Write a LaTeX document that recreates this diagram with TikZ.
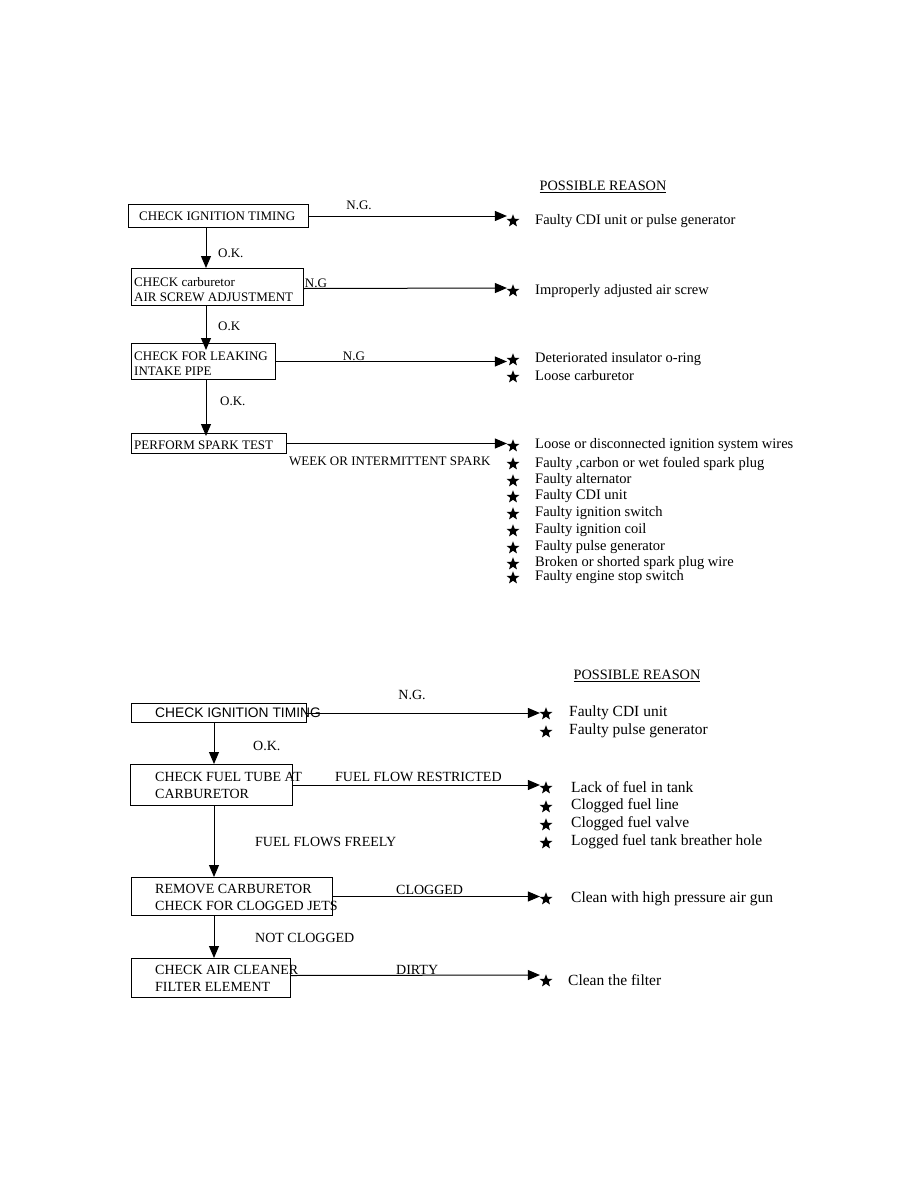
\documentclass[tikz,border=0pt]{standalone}
\usepackage{fontspec}
\setmainfont{Liberation Serif}
\newfontfamily\arialfont{Liberation Sans}
\usetikzlibrary{arrows.meta,shapes.geometric}

\begin{document}
\begin{tikzpicture}[x=1pt,y=-1pt,
  every node/.style={font=\fontsize{13}{15}\selectfont,inner sep=0pt},
  box/.style={draw,line width=1pt,anchor=north west},
  boxtxt/.style={anchor=west,align=left},
  flow/.style={-{Triangle[length=12pt,width=10pt]},line width=1pt},
  toreason/.style={flow,shorten >=2pt},
  tag/.style={anchor=west},
  starmark/.style={star,star points=5,star point ratio=2.4,fill=black,minimum size=13.5pt,inner sep=0pt},
  why/.style={anchor=west,font=\fontsize{14.5}{17}\selectfont},
  whytoo/.style={anchor=west,font=\fontsize{15.5}{18}\selectfont},
  head/.style={font=\fontsize{14.3}{17}\selectfont}]
  \useasboundingbox (0,0) rectangle (918,1188);

  % upper chart
  \coordinate (trunk) at (206,0);
  \node[head] (hd1) at (603,187) {\underline{POSSIBLE REASON}};

  \node[box,minimum width=180pt,minimum height=23pt] (ign) at (128,204) {};
  \node[boxtxt] (ignt) at (139,216) {CHECK IGNITION TIMING};
  \node[box,minimum width=172pt,minimum height=37pt] (airs) at (131,268) {};
  \node[boxtxt] (airst) at (134,289.5) {CHECK carburetor\\AIR SCREW ADJUSTMENT};
  \node[box,minimum width=144pt,minimum height=36pt] (leak) at (131,343) {};
  \node[boxtxt] (leakt) at (134,363.5) {CHECK FOR LEAKING\\INTAKE PIPE};
  \node[box,minimum width=155pt,minimum height=20pt] (spark) at (131,433) {};
  \node[boxtxt] (sparkt) at (134,445) {PERFORM SPARK TEST};

  \node[starmark] (r1) at (513,221) {};
  \node[why] (r1t) at (535,221) {Faulty CDI unit or pulse generator};
  \node[starmark] (r2) at (513,291) {};
  \node[why] (r2t) at (535,291) {Improperly adjusted air screw};
  \foreach \y/\t [count=\i] in {360/Deteriorated insulator o-ring,377/Loose carburetor}
  {
    \node[starmark] (r3\i) at (513,\y) {};
    \node[why] (r3t\i) at (535,\y-1) {\t};
  }
  \foreach \y/\t [count=\i] in {446/Loose or disconnected ignition system wires,
      464/{Faulty ,carbon or wet fouled spark plug},481/Faulty alternator,
      497/Faulty CDI unit,514/Faulty ignition switch,531/Faulty ignition coil,
      548/Faulty pulse generator,564/Broken or shorted spark plug wire,
      578/Faulty engine stop switch}
  {
    \node[starmark] (r4\i) at (513,\y) {};
    \node[why] (r4t\i) at (535,\y-0.5) {\t};
  }

  \draw[toreason] (ign.east) -- (ign.east -| r1.west);
  \draw[toreason] (airs.east) ++(0,1.5) -- (r2.west |- 0,288);
  \draw[toreason] (leak.east) -- (leak.east -| r31.west);
  \draw[toreason] (spark.east) -- (spark.east -| r41.west);
  \draw[flow] (ign.south -| trunk) -- (airs.north -| trunk);
  \draw[flow] (airs.south -| trunk) -- ([yshift=-7pt]leak.north -| trunk);
  \draw[flow] (leak.south -| trunk) -- ([yshift=-3pt]spark.north -| trunk);

  \node (ng1) at (359,205) {N.G.};
  \node (ng2) at (316,283) {N.G};
  \node (ng3) at (354,356) {N.G};
  \node[tag] (ok1) at (218,253) {O.K.};
  \node[tag] (ok2) at (218,326) {O.K};
  \node[tag] (ok3) at (220,401) {O.K.};
  \node[tag] (weak) at (289,461) {WEEK OR INTERMITTENT SPARK};

  % lower chart
  \begin{scope}[every node/.append style={font=\fontsize{14}{16.5}\selectfont}]
  \coordinate (trunkb) at (214,0);
  \node[head] (hd2) at (637,676) {\underline{POSSIBLE REASON}};

  \node[box,minimum width=175pt,minimum height=19pt] (ignb) at (131,703) {};
  \node[boxtxt,font=\arialfont\fontsize{13.8}{16}\selectfont] (ignbt) at (155,713) {CHECK IGNITION TIMING};
  \node[box,minimum width=162pt,minimum height=41pt] (tube) at (130,764) {};
  \node[boxtxt] (tubet) at (155,785.5) {CHECK FUEL TUBE AT\\CARBURETOR};
  \node[box,minimum width=201pt,minimum height=38pt] (jets) at (131,877) {};
  \node[boxtxt] (jetst) at (155,897.5) {REMOVE CARBURETOR\\CHECK FOR CLOGGED JETS};
  \node[box,minimum width=159pt,minimum height=39pt] (filt) at (131,958) {};
  \node[boxtxt] (filtt) at (155,978.5) {CHECK AIR CLEANER\\FILTER ELEMENT};

  \foreach \y/\t [count=\i] in {714/Faulty CDI unit,732/Faulty pulse generator}
  {
    \node[starmark] (s1\i) at (546,\y) {};
    \node[whytoo] (s1t\i) at (569,\y-1.5) {\t};
  }
  \foreach \y/\t [count=\i] in {788/Lack of fuel in tank,807/Clogged fuel line,
      825/Clogged fuel valve,843/Logged fuel tank breather hole}
  {
    \node[starmark] (s2\i) at (546,\y) {};
    \node[whytoo] (s2t\i) at (571,\y-1) {\t};
  }
  \node[starmark] (s3) at (546,899) {};
  \node[whytoo] (s3t) at (571,899) {Clean with high pressure air gun};
  \node[starmark] (s4) at (546,981) {};
  \node[whytoo] (s4t) at (568,980) {Clean the filter};

  \draw[toreason] (ignb.east) -- (ignb.east -| s11.west);
  \draw[toreason] (tube.east) -- (tube.east -| s21.west);
  \draw[toreason] (jets.east) -- (jets.east -| s3.west);
  \draw[toreason] (filt.east) ++(0,-2.5) -- (s4.west |- 0,975);
  \draw[flow] (ignb.south -| trunkb) -- (tube.north -| trunkb);
  \draw[flow] (tube.south -| trunkb) -- (jets.north -| trunkb);
  \draw[flow] (jets.south -| trunkb) -- (filt.north -| trunkb);

  \node (ng4) at (412,695) {N.G.};
  \node[tag] (ok4) at (253,746) {O.K.};
  \node[tag] (restr) at (335,777) {FUEL FLOW RESTRICTED};
  \node[tag] (freely) at (255,842) {FUEL FLOWS FREELY};
  \node[tag] (clog) at (396,890) {CLOGGED};
  \node[tag] (notclog) at (255,938) {NOT CLOGGED};
  \node[tag] (dirty) at (396,970) {DIRTY};
  \end{scope}
\end{tikzpicture}
\end{document}
